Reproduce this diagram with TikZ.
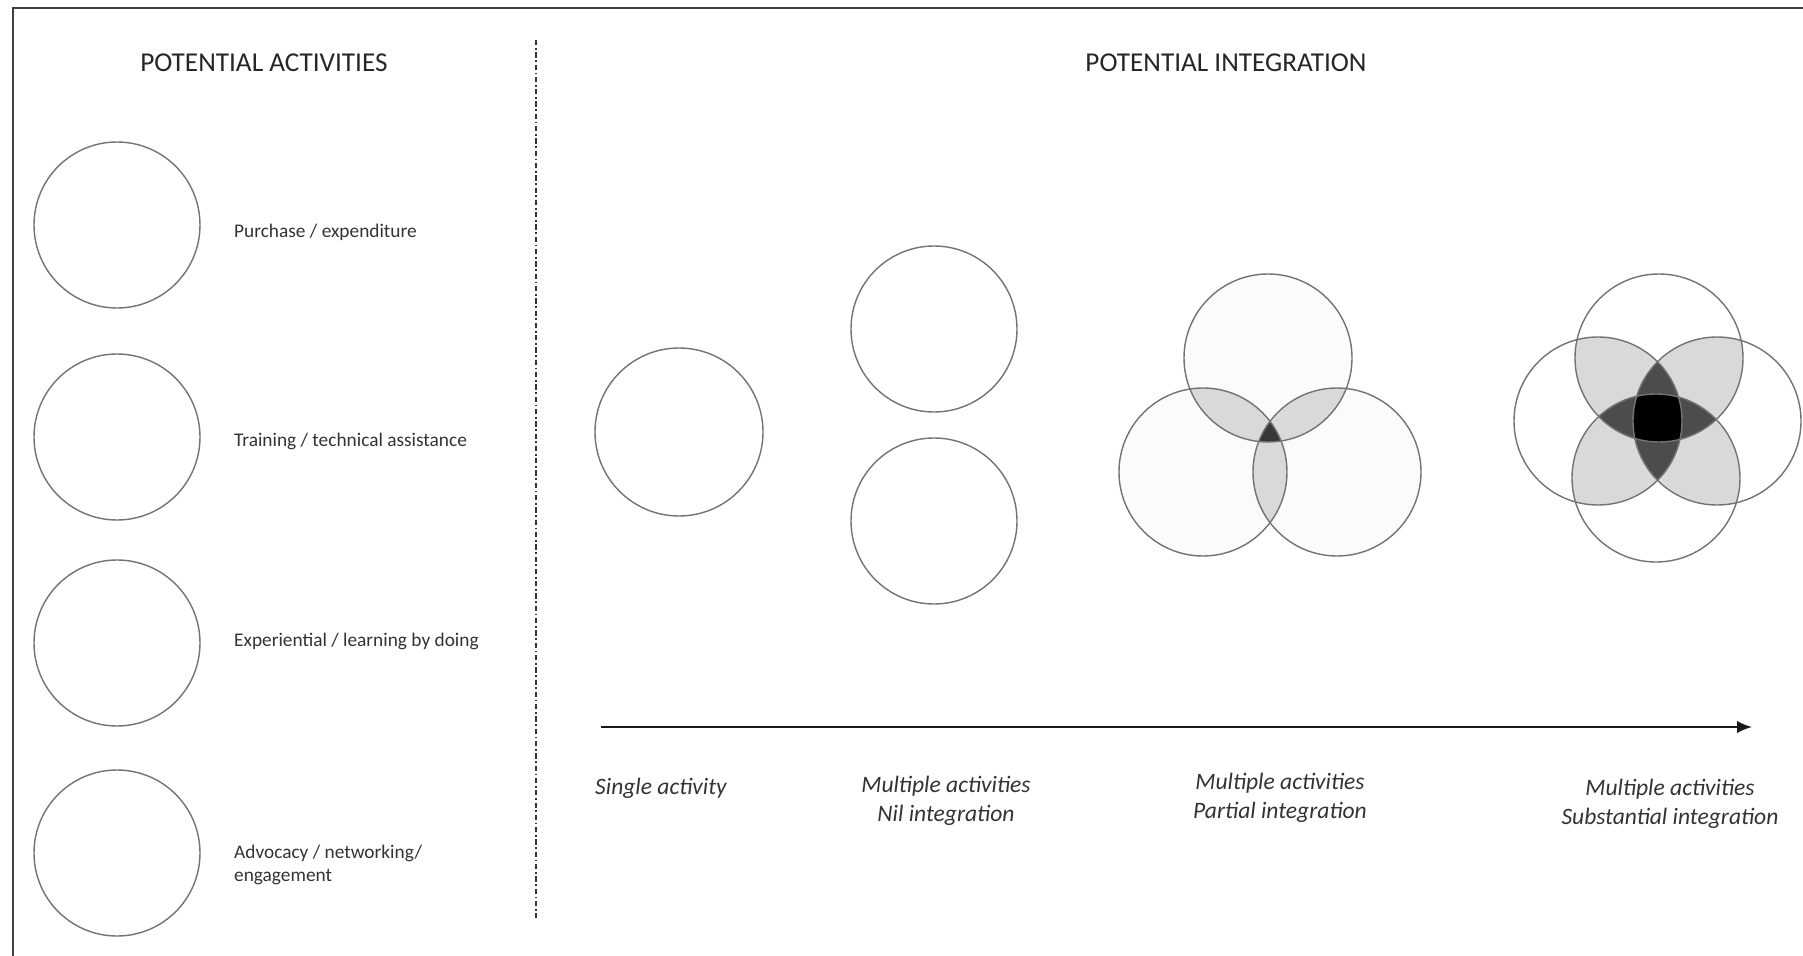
\documentclass[tikz,border=0pt]{standalone}
\usepackage{fontspec}
\setmainfont{Carlito}
\usepackage{tikz}
\usetikzlibrary{arrows.meta}

\tikzset{
  ring/.style={draw=black!55, line width=0.8pt},
  title/.style={font=\fontsize{15.5}{18}\selectfont, text=black!85},
  actlabel/.style={anchor=west, align=left, font=\fontsize{11}{13.5}\selectfont, text=black!80},
  steplabel/.style={align=center, font=\fontsize{13.4}{16.8}\selectfont\itshape, text=black!80},
  pairfill/.style={fill=black!15},
}

\begin{document}
\begin{tikzpicture}[x=0.02cm, y=-0.02cm]
  \useasboundingbox (0,0) rectangle (1803,956);
  % frame (top and left edges only)
  \draw[black!75, line width=1pt] (13,956) -- (13,8) -- (1803,8);

  \node[title] (acttitle) at (264,63) {POTENTIAL ACTIVITIES};
  \node[title] (inttitle) at (1226,63) {POTENTIAL INTEGRATION};

  % divider between the two halves
  \draw[black!80, line width=0.6pt, dash pattern=on 3pt off 1.5pt on 1pt off 1.5pt] (536,40) -- (536,920);

  % list of activities
  \foreach \y/\ty/\txt [count=\i] in {225/232/{Purchase / expenditure},
      437/441/{Training / technical assistance},
      643/641/{Experiential / learning by doing},
      853/865/{Advocacy / networking/\\engagement}} {
    \draw[ring] (117,\y) circle (83);
    \node[actlabel] (act\i) at (228,\ty) {\txt};
  }

  % single activity
  \draw[ring] (679,432) circle (84);

  % two separate circles
  \draw[ring] (934,329) circle (83);
  \draw[ring] (934,521) circle (83);

  % three circles, partial overlap
  \coordinate (ta) at (1268,358);
  \coordinate (tb) at (1203,472);
  \coordinate (tc) at (1337,472);
  \fill[black!1.5] (ta) circle (84) (tb) circle (84) (tc) circle (84);
  \begin{scope}\clip (ta) circle (84); \fill[pairfill] (tb) circle (84); \fill[pairfill] (tc) circle (84);\end{scope}
  \begin{scope}\clip (tb) circle (84); \fill[pairfill] (tc) circle (84);\end{scope}
  \begin{scope}\clip (ta) circle (84); \clip (tb) circle (84); \fill[black!78] (tc) circle (84);\end{scope}
  \foreach \c in {ta,tb,tc} \draw[ring] (\c) circle (84);

  % four circles, substantial overlap
  \coordinate (qt) at (1659,358);
  \coordinate (qb) at (1656,478);
  \coordinate (ql) at (1598,421);
  \coordinate (qr) at (1717,421);
  \foreach \a/\b in {qt/qb,qt/ql,qt/qr,qb/ql,qb/qr,ql/qr} {
    \begin{scope}\clip (\a) circle (84); \fill[pairfill] (\b) circle (84);\end{scope}
  }
  \foreach \a/\b/\c in {qt/ql/qr,qb/ql/qr,qt/qb/ql,qt/qb/qr} {
    \begin{scope}\clip (\a) circle (84); \clip (\b) circle (84); \fill[black!70] (\c) circle (84);\end{scope}
  }
  \begin{scope}
    \clip (qt) circle (84); \clip (qb) circle (84); \clip (ql) circle (84);
    \fill[black] (qr) circle (84);
  \end{scope}
  \foreach \c in {qt,qb,ql,qr} \draw[ring] (\c) circle (84);

  % integration axis
  \coordinate (axisstart) at (601,727);
  \coordinate (axisend) at (1752,727);
  \draw[-{Latex[length=8.5pt,width=7pt]}, line width=1pt, black!90] (axisstart) -- (axisend);

  \node[steplabel] (single) at (661,788) {Single activity};
  \node[steplabel] (nil) at (946,801) {Multiple activities\\Nil integration};
  \node[steplabel] (partial) at (1280,798) {Multiple activities\\Partial integration};
  \node[steplabel] (substantial) at (1670,804) {Multiple activities\\Substantial integration};
\end{tikzpicture}
\end{document}
